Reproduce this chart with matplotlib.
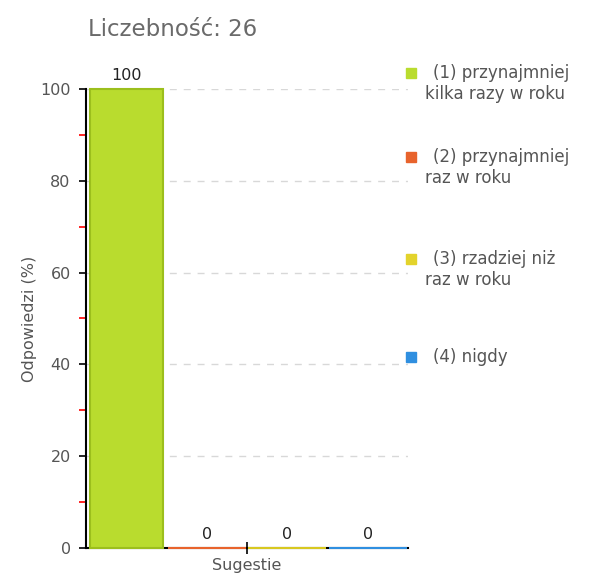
import matplotlib
matplotlib.use("Agg")
from matplotlib import pyplot as plt
from matplotlib.patches import Rectangle

# data
categories = ["(1) przynajmniej\nkilka razy w roku", "(2) przynajmniej\nraz w roku",
              "(3) rzadziej niż\nraz w roku", "(4) nigdy"]
values = [100, 0, 0, 0]
colors = ["#b9dc2e", "#e8632c", "#e3d32c", "#2f8fe0"]
edges = ["#9cbf1c", "#e8632c", "#d8c820", "#2f8fe0"]
n_total = 26

fig = plt.figure(figsize=(6.03, 5.76), dpi=100)
ax = fig.add_axes([0.1426, 0.0486, 0.534, 0.797])

x = range(len(values))
bars = ax.bar(x, values, width=[0.91, 0.97, 0.97, 0.97], color=colors, edgecolor=edges,
              linewidth=1.5, zorder=3)
for b in bars:
    b.set_clip_on(False)

for xi, v in zip(x, values):
    ax.text(xi, v + 1.2, str(v), ha="center", va="bottom", fontsize=11.5, color="#222222")

ax.set_xlim(-0.5, 3.5)
ax.set_ylim(0, 100)

# dashed grid lines
for y in [20, 40, 60, 80, 100]:
    ax.axhline(y, color="#d8d8d8", linestyle=(0, (5, 5)), linewidth=1, zorder=1)

ax.set_yticks([0, 20, 40, 60, 80, 100])
ax.set_yticks([10, 30, 50, 70, 90], minor=True)
ax.tick_params(axis="y", which="major", length=5, width=1.2, colors="black", labelcolor="#555555",
               labelsize=11.5, pad=6)
ax.tick_params(axis="y", which="minor", length=5, width=1.2, color="red")
ax.set_xticks([1.5])
ax.set_xticklabels([""])
ax.tick_params(axis="x", direction="inout", length=8, width=1.2)

for s in ["top", "right"]:
    ax.spines[s].set_visible(False)
ax.spines["left"].set_linewidth(1.5)
ax.spines["bottom"].set_linewidth(1.5)

ax.set_xlabel("Sugestie", fontsize=11.5, color="#555555", labelpad=0)
ax.set_ylabel("Odpowiedzi (%)", fontsize=11.5, color="#555555")
ax.yaxis.set_label_coords(-0.152, 0.5)

fig.text(88 / 603, 1 - 30 / 576, f"Liczebność: {n_total}", fontsize=16.5, color="#6a6a6a",
         ha="left", va="center")

# legend
leg_y = [73, 157, 259, 357]
for lab, c, yy in zip(categories, colors, leg_y):
    fig.patches.append(Rectangle((406 / 603, 1 - (yy + 5) / 576), 10 / 603, 10 / 576,
                                 transform=fig.transFigure, color=c, figure=fig))
    first, *rest = lab.split("\n")
    fig.text(433 / 603, 1 - yy / 576, first, fontsize=12, color="#555555", ha="left", va="center")
    if rest:
        fig.text(425 / 603, 1 - (yy + 21) / 576, rest[0], fontsize=12, color="#555555",
                 ha="left", va="center")

fig.savefig("out.png", dpi=100)
